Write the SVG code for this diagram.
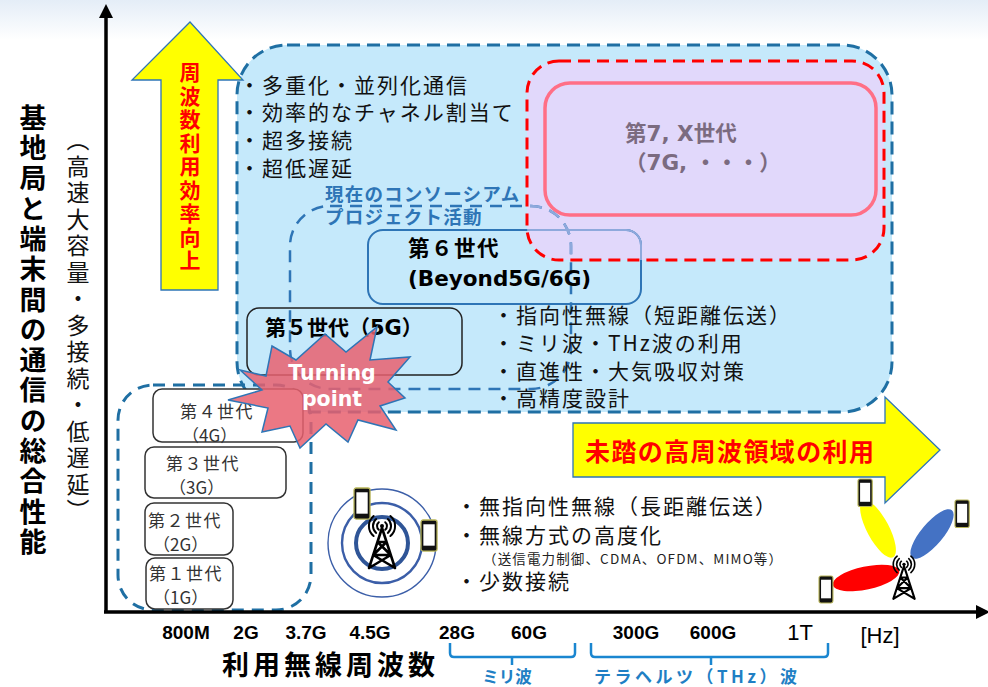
<svg xmlns="http://www.w3.org/2000/svg" width="988" height="687" viewBox="0 0 988 687">
  <defs>
    <linearGradient id="sky" x1="0" y1="0" x2="0" y2="1">
      <stop offset="0" stop-color="#e4edf7"/>
      <stop offset="1" stop-color="#ffffff"/>
    </linearGradient>
    <clipPath id="zone7clip">
      <rect x="527" y="61" width="357" height="199" rx="32"/>
    </clipPath>
    <!-- base station mast with radio waves; origin at the mast tip -->
    <g id="mast" fill="none" stroke="#000" stroke-linecap="round" stroke-linejoin="round">
      <path stroke-width="2.6" d="M0,0 L-13,40 M0,0 L13,40 M-4.5,14 H4.5 M-4.5,14 L8.8,27 M4.5,14 L-8.8,27 M-8.8,27 H8.8 M-8.8,27 L13,40 M8.8,27 L-13,40"/>
      <path stroke-width="2" d="M-3.2,-5.8 A5 5 0 0 0 -3.2,1.8 M3.2,-5.8 A5 5 0 0 1 3.2,1.8 M-5.8,-8.9 A9 9 0 0 0 -5.8,4.9 M5.8,-8.9 A9 9 0 0 1 5.8,4.9 M-8.4,-12 A13 13 0 0 0 -8.4,8 M8.4,-12 A13 13 0 0 1 8.4,8"/>
      <circle cx="0" cy="-2" r="2" fill="#000" stroke="none"/>
    </g>
    <!-- handset; origin at top-left corner -->
    <g id="handset">
      <rect x="0" y="0" width="15" height="29" rx="2" fill="#111" stroke="#b9b65a" stroke-width="1.2"/>
      <rect x="2.2" y="4" width="10.6" height="20" fill="#fff"/>
    </g>
  </defs>
  <style>
    .jp { font-family: "Noto Sans CJK JP", sans-serif; }
    .mix { font-family: "DejaVu Sans", "Noto Sans CJK JP", sans-serif; }
    .num { font-family: "Liberation Sans", "Noto Sans CJK JP", sans-serif; font-weight: bold; font-size: 19px; text-anchor: middle; fill: #000; }
    .big { font-size: 22px; font-weight: normal; }
    .list { font-family: "Noto Sans CJK JP", sans-serif; font-size: 21px; letter-spacing: 2px; fill: #111; }
    .vert { writing-mode: vertical-rl; }
    .genbox { fill: #fff; stroke: #333; stroke-width: 1.5; }
    .gentxt { font-family: "Noto Sans CJK JP", sans-serif; font-size: 17px; fill: #333; }
    .brace { fill: none; stroke: #1a86d0; stroke-width: 2.5; stroke-linejoin: round; }
    .yarrow { fill: #ffff00; stroke: #2e75b6; stroke-width: 1.3; }
  </style>

  <!-- backdrop -->
  <rect x="0" y="0" width="988" height="40" fill="url(#sky)"/>
  <rect x="0" y="40" width="988" height="647" fill="#fff"/>

  <!-- 5G/6G era region -->
  <g id="region-5g6g">
    <rect x="237" y="45" width="655" height="367" rx="50" fill="#c5e9fb" stroke="#1f6fa3" stroke-width="3" stroke-dasharray="13 7"/>
  </g>

  <!-- 7G and later zone -->
  <g id="zone-7g">
    <rect x="527" y="61" width="357" height="199" rx="32" fill="#e1d8fb" stroke="#ff0000" stroke-width="3" stroke-dasharray="12 7"/>
  </g>
  <g id="gen7">
    <rect x="545" y="83" width="331" height="132" rx="25" fill="none" stroke="#ff6f86" stroke-width="3.5"/>
    <text class="mix" x="625" y="141" font-size="21.5" font-weight="bold" fill="#7b6b80">第7, X世代</text>
    <text class="mix" x="625" y="170" font-size="21.5" font-weight="bold" fill="#7b6b80">（7G, ・・・）</text>
  </g>

  <!-- current consortium activity -->
  <g id="consortium">
    <rect x="290" y="206" width="281" height="183" rx="40" fill="none" stroke="#2e75b6" stroke-width="2.5" stroke-dasharray="12 8"/>
    <rect x="290" y="206" width="281" height="183" rx="40" fill="none" stroke="#8ea9dc" stroke-width="2.5" stroke-dasharray="12 8" clip-path="url(#zone7clip)"/>
    <text class="jp" x="325" y="201" font-size="18.5" font-weight="bold" letter-spacing="1.2" fill="#2e75b6">現在のコンソーシアム</text>
    <text class="jp" x="325" y="224" font-size="18.5" font-weight="bold" letter-spacing="1.2" fill="#2e75b6">プロジェクト活動</text>
  </g>

  <!-- 6th generation -->
  <g id="gen6">
    <rect x="368" y="230" width="273" height="74" rx="15" fill="none" stroke="#2e75b6" stroke-width="2"/>
    <rect x="368" y="230" width="273" height="74" rx="15" fill="none" stroke="#8ea9dc" stroke-width="2" clip-path="url(#zone7clip)"/>
    <text class="jp" x="408" y="256" font-size="21.5" font-weight="bold" letter-spacing="1.5" fill="#000">第６世代</text>
    <text class="mix" x="408" y="286" font-size="21.5" font-weight="bold" fill="#000">(Beyond5G/6G)</text>
  </g>

  <!-- 5th generation -->
  <g id="gen5">
    <rect x="247" y="308" width="215" height="67" rx="12" fill="none" stroke="#222" stroke-width="1.5"/>
    <text class="mix" x="265" y="335" font-size="21" font-weight="bold" fill="#000">第５世代（5G）</text>
  </g>

  <!-- 1G-4G region -->
  <g id="region-1g4g">
    <rect x="118" y="385" width="193" height="225" rx="35" fill="none" stroke="#1f6fa3" stroke-width="3" stroke-dasharray="12 8"/>
  </g>
  <g id="gen4">
    <rect class="genbox" x="153" y="389" width="150" height="53" rx="9"/>
    <text class="gentxt" x="180" y="418" letter-spacing="1.5">第４世代</text>
    <text class="gentxt" x="182" y="442">（4G）</text>
  </g>
  <g id="gen3">
    <rect class="genbox" x="145" y="447" width="141" height="51" rx="9"/>
    <text class="gentxt" x="166" y="470" letter-spacing="1.5">第３世代</text>
    <text class="gentxt" x="169" y="494">（3G）</text>
  </g>
  <g id="gen2">
    <rect class="genbox" x="145" y="503" width="88" height="52" rx="9"/>
    <text class="gentxt" x="148" y="527" letter-spacing="1.5">第２世代</text>
    <text class="gentxt" x="153" y="551">（2G）</text>
  </g>
  <g id="gen1">
    <rect class="genbox" x="146" y="558" width="87" height="51" rx="9"/>
    <text class="gentxt" x="149" y="580" letter-spacing="1.5">第１世代</text>
    <text class="gentxt" x="153" y="604">（1G）</text>
  </g>

  <!-- turning point burst -->
  <g id="turning-point">
    <polygon points="240,370 266,376 272,346 296,360 325,334 346,352 377,327 370,360 410,357 388,382 405,398 380,406 396,430 358,420 348,442 326,424 300,448 290,426 262,432 268,408 228,400 262,390" fill="#e8606e" fill-opacity="0.85" stroke="#2e75b6" stroke-width="1.5" stroke-linejoin="miter"/>
    <text class="mix" x="332" y="380" font-size="20.5" font-weight="bold" fill="#fff" text-anchor="middle">Turning</text>
    <text class="mix" x="332" y="406" font-size="20.5" font-weight="bold" fill="#fff" text-anchor="middle">point</text>
  </g>

  <!-- feature lists -->
  <g id="list-5g">
    <text class="list" x="239" y="93">・多重化・並列化通信</text>
    <text class="list" x="239" y="120">・効率的なチャネル割当て</text>
    <text class="list" x="239" y="148">・超多接続</text>
    <text class="list" x="239" y="176">・超低遅延</text>
  </g>
  <g id="list-6g">
    <text class="list" x="493" y="323">・指向性無線（短距離伝送）</text>
    <text class="list" x="493" y="351">・ミリ波・THz波の利用</text>
    <text class="list" x="493" y="379">・直進性・大気吸収対策</text>
    <text class="list" x="493" y="406">・高精度設計</text>
  </g>
  <g id="list-legacy">
    <text class="list" x="456" y="514">・無指向性無線（長距離伝送）</text>
    <text class="list" x="456" y="543">・無線方式の高度化</text>
    <text class="jp" x="483" y="564" font-size="13.5" fill="#222" textLength="299" lengthAdjust="spacing">（送信電力制御、CDMA、OFDM、MIMO等）</text>
    <text class="list" x="456" y="589">・少数接続</text>
  </g>

  <!-- omnidirectional cell icon -->
  <g id="icon-omni">
    <circle cx="382" cy="543" r="54" fill="none" stroke="#3b5ea8" stroke-width="1.4"/>
    <circle cx="382" cy="543" r="40" fill="none" stroke="#3b5ea8" stroke-width="2.4"/>
    <circle cx="382" cy="543" r="26" fill="none" stroke="#2f5597" stroke-width="4"/>
    <use href="#mast" transform="translate(382,528)"/>
    <use href="#handset" transform="translate(354,488) scale(1.07)"/>
    <use href="#handset" transform="translate(421,520) scale(1.07)"/>
  </g>

  <!-- beamforming icon -->
  <g id="icon-beam">
    <ellipse cx="878" cy="529" rx="32" ry="11" transform="rotate(62 878 529)" fill="#ffff00"/>
    <ellipse cx="932" cy="534" rx="31" ry="11" transform="rotate(-50 932 534)" fill="#4472c4"/>
    <ellipse cx="866" cy="578" rx="34" ry="11.5" transform="rotate(-12 866 578)" fill="#ff0000"/>
    <use href="#mast" transform="translate(904,566) scale(0.82)"/>
    <use href="#handset" transform="translate(858,479) scale(0.95)"/>
    <use href="#handset" transform="translate(955,500) scale(0.95)"/>
    <use href="#handset" transform="translate(819,576) scale(0.93)"/>
  </g>

  <!-- trend arrows -->
  <g id="arrow-efficiency">
    <polygon class="yarrow" points="190,22 243,80 218,80 218,290 161,290 161,80 132,80"/>
    <text class="jp vert" x="190" y="62" font-size="21" font-weight="bold" letter-spacing="2.5" fill="#ff0000">周波数利用効率向上</text>
  </g>
  <g id="arrow-highband">
    <polygon class="yarrow" points="573,423 885,423 885,397 940,450 885,503 885,477 573,477"/>
    <text class="jp" x="585" y="461" font-size="25" font-weight="bold" letter-spacing="1.4" fill="#ff0000">未踏の高周波領域の利用</text>
  </g>

  <!-- axes -->
  <g id="axes" fill="#000" stroke="#000">
    <line x1="106" y1="612" x2="106" y2="14" stroke-width="3.5"/>
    <polygon points="106,4 99,18 113,18" stroke="none"/>
    <line x1="104" y1="612" x2="978" y2="612" stroke-width="3.5"/>
    <polygon points="990,612 976,605 976,619" stroke="none"/>
  </g>

  <!-- axis titles -->
  <g id="axis-labels">
    <text class="jp vert" x="33" y="104" font-size="27" font-weight="bold" letter-spacing="3.3" fill="#000">基地局と端末間の通信の総合性能</text>
    <text class="jp vert" x="78" y="128" font-size="23" letter-spacing="3.5" fill="#111">（高速大容量・多接続・低遅延）</text>
    <text class="jp" x="222" y="675" font-size="27" font-weight="bold" letter-spacing="4" fill="#000">利用無線周波数</text>
  </g>

  <!-- frequency ticks -->
  <g id="freq-labels">
    <text class="num" x="186" y="639">800M</text>
    <text class="num" x="246" y="639">2G</text>
    <text class="num" x="306" y="639">3.7G</text>
    <text class="num" x="370" y="639">4.5G</text>
    <text class="num" x="457" y="639">28G</text>
    <text class="num" x="529" y="639">60G</text>
    <text class="num" x="636" y="639">300G</text>
    <text class="num" x="713" y="639">600G</text>
    <text class="num big" x="800" y="640">1T</text>
    <text class="num big" x="880" y="643">[Hz]</text>
  </g>

  <!-- band braces -->
  <g id="band-mmwave">
    <path class="brace" d="M450,643 V653 Q450,657 454,657 H571 Q575,657 575,653 V643 M512,657 V665"/>
    <text class="jp" x="507" y="683" font-size="16.5" font-weight="bold" fill="#1f7fc4" text-anchor="middle">ミリ波</text>
  </g>
  <g id="band-thz">
    <path class="brace" d="M591,643 V653 Q591,657 595,657 H824 Q828,657 828,653 V643 M711,657 V665"/>
    <text class="jp" x="594" y="683" font-size="17" font-weight="bold" fill="#1f7fc4" textLength="203" lengthAdjust="spacing">テラヘルツ（THz）波</text>
  </g>
</svg>
